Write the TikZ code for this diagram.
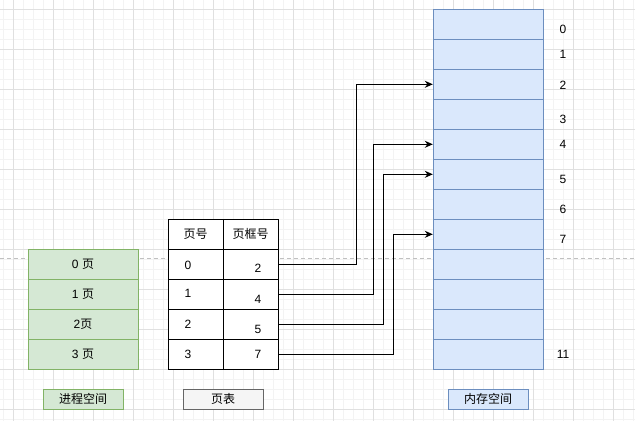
\documentclass[tikz,border=0pt]{standalone}
\usepackage{fontspec}
\setmainfont{Liberation Sans}
\newfontfamily\cjk{Noto Sans CJK SC}
\usetikzlibrary{arrows.meta}
\definecolor{grnfill}{HTML}{D5E8D4}
\definecolor{grnline}{HTML}{82B366}
\definecolor{blufill}{HTML}{DAE8FC}
\definecolor{bluline}{HTML}{6C8EBF}
\definecolor{gryfill}{HTML}{F5F5F5}
\definecolor{gryline}{HTML}{666666}
\definecolor{minorgrid}{HTML}{F3F3F3}
\definecolor{majorgrid}{HTML}{E0E0E0}
\definecolor{pagebreak}{HTML}{C0C0C0}
\begin{document}
\begin{tikzpicture}[x=1pt,y=-1pt,
  font=\fontsize{12}{14}\selectfont,
  cellbox/.style={rectangle, minimum height=30pt, inner sep=0pt, line width=1pt},
  grncell/.style={cellbox, minimum width=110pt, fill=grnfill, draw=grnline},
  blucell/.style={cellbox, minimum width=110pt, fill=blufill, draw=bluline},
  tblcell/.style={cellbox, minimum width=55pt, fill=white, draw=black},
  tagbox/.style={rectangle, minimum width=80pt, minimum height=20pt, inner sep=0pt, line width=1pt},
  txt/.style={inner sep=0pt},
  arr/.style={line width=1pt, -{Stealth[length=8pt,width=7pt]}}]
\useasboundingbox (0,0) rectangle (635,421);
\fill[white] (0,0) rectangle (635,421);
% grid
\foreach \x in {3.3,13.3,...,635}{\draw[minorgrid, line width=0.8pt] (\x,0) -- (\x,421);}
\foreach \y in {9.3,19.3,...,421}{\draw[minorgrid, line width=0.8pt] (0,\y) -- (635,\y);}
\foreach \x in {13.3,53.3,...,635}{\draw[majorgrid, line width=0.8pt] (\x,0) -- (\x,421);}
\foreach \y in {9.3,49.3,...,421}{\draw[majorgrid, line width=0.8pt] (0,\y) -- (635,\y);}
% page break line
\draw[pagebreak, line width=0.8pt, dash pattern=on 4pt off 3pt] (0,258.3) -- (635,258.3);
% process space
\node[grncell] (p0) at (83,264) {0 {\cjk 页}};
\node[grncell] (p1) at (83,294) {1 {\cjk 页}};
\node[grncell] (p2) at (83,324) {2{\cjk 页}};
\node[grncell] (p3) at (83,354) {3 {\cjk 页}};
\node[tagbox, fill=grnfill, draw=grnline] (plabel) at (83,399) {\cjk 进程空间};
% page table
\node[tblcell] (h1) at (195.5,234) {\cjk 页号};
\node[tblcell] (h2) at (250.5,234) {\cjk 页框号};
\foreach \i/\y in {0/264,1/294,2/324,3/354}{
  \node[tblcell] (n\i) at (195.5,\y) {};
  \node[tblcell] (f\i) at (250.5,\y) {};
}
\node[txt] (tn0) at (188,265) {0};
\node[txt] (tn1) at (188,293) {1};
\node[txt] (tn2) at (188,324) {2};
\node[txt] (tn3) at (188,354) {3};
\node[txt] (tf0) at (258,268) {2};
\node[txt] (tf1) at (258,299) {4};
\node[txt] (tf2) at (258,329) {5};
\node[txt] (tf3) at (258,354) {7};
\node[tagbox, fill=gryfill, draw=gryline] (tlabel) at (223,399) {\cjk 页表};
% memory
\foreach \k in {0,...,11}{
  \node[blucell] (m\k) at (488.3,24.3+30*\k) {};
}
\node[tagbox, fill=blufill, draw=bluline] (mlabel) at (488,399) {\cjk 内存空间};
\node[txt] (ml0) at (563,29) {0};
\node[txt] (ml1) at (563,54) {1};
\node[txt] (ml2) at (563,85) {2};
\node[txt] (ml3) at (563,119) {3};
\node[txt] (ml4) at (563,144) {4};
\node[txt] (ml5) at (563,179) {5};
\node[txt] (ml6) at (563,209) {6};
\node[txt] (ml7) at (563,239) {7};
\node[txt] (ml11) at (563,354) {11};
% connectors
\coordinate (b0) at (356.5,84.3);
\coordinate (b1) at (373.5,144.3);
\coordinate (b2) at (383.5,174.3);
\coordinate (b3) at (393.5,234.3);
\draw[arr] (f0.east) -| (b0) -- (m2.west);
\draw[arr] (f1.east) -| (b1) -- (m4.west);
\draw[arr] (f2.east) -| (b2) -- (m5.west);
\draw[arr] (f3.east) -| (b3) -- (m7.west);
\end{tikzpicture}
\end{document}
